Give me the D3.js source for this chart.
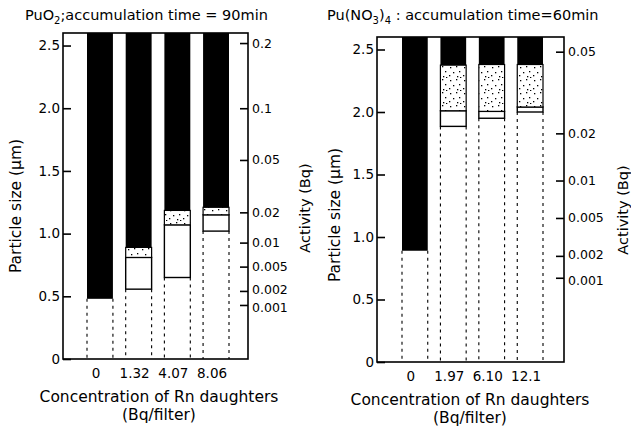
<!DOCTYPE html>
<html>
<head>
<meta charset="utf-8">
<script src="https://cdn.jsdelivr.net/npm/d3@7"></script>
<style>
  html, body { margin: 0; padding: 0; background: #fff; }
  svg text { font-family: "DejaVu Sans", sans-serif; fill: #000; }
</style>
</head>
<body>
<svg id="chart" width="631" height="426"></svg>
<script>
// ---------------- DATA ----------------
const sizeMax = 2.6;
const sizeTicks = [0, 0.5, 1.0, 1.5, 2.0, 2.5];

// Panel A: PuO2, accumulation time = 90 min
const puo2Conc = ["0", "1.32", "4.07", "8.06"];
const puo2BlackBottom = [0.48, 0.89, 1.185, 1.21];
const puo2StippleBottom = [null, 0.81, 1.07, 1.15];
const puo2BoxBottom = [null, 0.557, 0.65, 1.02];
const puo2ActivityTicks = [0.2, 0.1, 0.05, 0.02, 0.01, 0.005, 0.002, 0.001];
const puo2ActivityFactor = 80;   // size^3 / activity

// Panel B: Pu(NO3)4, accumulation time = 60 min
const punConc = ["0", "1.97", "6.10", "12.1"];
const punBlackBottom = [0.89, 2.375, 2.38, 2.38];
const punStippleBottom = [null, 2.01, 2.005, 2.04];
const punBoxBottom = [null, 1.885, 1.95, 2.0];
const punActivityTicks = [0.05, 0.02, 0.01, 0.005, 0.002, 0.001];
const punActivityFactor = 306;

// ---------------- DRAW ----------------
const svg = d3.select("#chart");

// stipple pattern
const defs = svg.append("defs");
const pat = defs.append("pattern").attr("id", "stip")
  .attr("patternUnits", "userSpaceOnUse").attr("width", 14).attr("height", 13);
pat.append("rect").attr("width", 14).attr("height", 13).attr("fill", "#fff");
[[2,2],[8,1],[11,6],[5,7],[1,10],[9,11],[12,12]].forEach(p =>
  pat.append("rect").attr("x", p[0]).attr("y", p[1]).attr("width", 1.3).attr("height", 1.3).attr("fill", "#000"));

function panel(cfg) {
  const g = svg.append("g");
  const y = d3.scaleLinear().domain([0, sizeMax]).range([cfg.bottom, cfg.top]);
  const yAct = d3.scalePow().exponent(1 / 3)
    .domain([0, Math.pow(sizeMax, 3) / cfg.factor]).range([cfg.bottom, cfg.top]);
  const x = d3.scaleBand().domain(cfg.conc).range(cfg.barRange)
    .paddingInner(0.33).paddingOuter(0);
  const bw = x.bandwidth();

  const rows = cfg.conc.map((c, i) => ({
    c, black: cfg.black[i], stip: cfg.stip[i], box: cfg.box[i]
  }));

  // dashed drop lines
  rows.forEach(d => {
    const low = d.box != null ? d.box : d.black;
    [x(d.c), x(d.c) + bw].forEach(xx => {
      g.append("line").attr("x1", xx).attr("x2", xx)
        .attr("y1", y(low)).attr("y2", y(0))
        .attr("stroke", "#000").attr("stroke-width", 1.1)
        .attr("stroke-dasharray", "3,4");
    });
  });

  // white boxes
  g.selectAll(".box").data(rows.filter(d => d.box != null)).join("rect")
    .attr("x", d => x(d.c)).attr("width", bw)
    .attr("y", d => y(d.stip)).attr("height", d => y(d.box) - y(d.stip))
    .attr("fill", "#fff").attr("stroke", "#000").attr("stroke-width", 1.4);
  // stippled segments
  g.selectAll(".stip").data(rows.filter(d => d.stip != null)).join("rect")
    .attr("x", d => x(d.c)).attr("width", bw)
    .attr("y", d => y(d.black)).attr("height", d => y(d.stip) - y(d.black))
    .attr("fill", "url(#stip)").attr("stroke", "#000").attr("stroke-width", 1.2);
  // black segments
  g.selectAll(".blk").data(rows).join("rect")
    .attr("x", d => x(d.c)).attr("width", bw)
    .attr("y", y(sizeMax)).attr("height", d => y(d.black) - y(sizeMax))
    .attr("fill", "#000");

  // frame
  g.append("rect").attr("x", cfg.left).attr("y", cfg.top)
    .attr("width", cfg.right - cfg.left).attr("height", cfg.bottom - cfg.top)
    .attr("fill", "none").attr("stroke", "#000").attr("stroke-width", 1.6);

  // left axis
  const la = g.append("g").attr("transform", `translate(${cfg.left},0)`)
    .call(d3.axisLeft(y).tickValues(sizeTicks)
      .tickFormat(v => v === 0 ? "0" : d3.format(".1f")(v))
      .tickSizeInner(-8).tickSizeOuter(0).tickPadding(3));
  la.select(".domain").remove();
  la.selectAll("line").attr("stroke", "#000").attr("stroke-width", 1.6);
  la.selectAll("text").attr("font-size", 13.5).attr("font-family", "DejaVu Sans");

  // right axis (activity)
  const ra = g.append("g").attr("transform", `translate(${cfg.right},0)`)
    .call(d3.axisRight(yAct).tickValues(cfg.actTicks)
      .tickFormat(v => String(v))
      .tickSizeInner(-8).tickSizeOuter(0).tickPadding(4));
  ra.select(".domain").remove();
  ra.selectAll("line").attr("stroke", "#000").attr("stroke-width", 1.6);
  ra.selectAll("text").attr("font-size", 12.5).attr("font-family", "DejaVu Sans")
    .attr("dy", v => v === 0.001 ? "0.5em" : v === 0.002 ? "0.22em" : "0.32em");

  // bottom labels
  g.selectAll(".xl").data(cfg.conc).join("text")
    .attr("x", d => x(d) + bw / 2 - 4).attr("y", cfg.bottom + 19)
    .attr("text-anchor", "middle").attr("font-size", 13.5).text(d => d);

  // titles and axis titles
  const t = g.append("text").attr("x", cfg.titleX).attr("y", 20).attr("font-size", 14.5);
  cfg.title(t);

  g.append("text").attr("transform", `translate(${cfg.ylabX},${cfg.ylabY}) rotate(-90)`)
    .attr("text-anchor", "middle").attr("dominant-baseline", "central")
    .attr("font-size", 15.5).text("Particle size (\u03bcm)");
  g.append("text").attr("transform", `translate(${cfg.alabX},${cfg.alabY}) rotate(-90)`)
    .attr("text-anchor", "middle").attr("dominant-baseline", "central")
    .attr("font-size", 14.5).text("Activity (Bq)");
  g.append("text").attr("x", cfg.xlabX).attr("y", cfg.bottom + 43)
    .attr("text-anchor", "middle").attr("font-size", 15.5).text("Concentration of Rn daughters");
  g.append("text").attr("x", cfg.xlabX).attr("y", cfg.bottom + 61)
    .attr("text-anchor", "middle").attr("font-size", 15.5).text("(Bq/filter)");
}

panel({
  left: 63, right: 248, top: 33, bottom: 359, barRange: [87, 229],
  conc: puo2Conc, black: puo2BlackBottom, stip: puo2StippleBottom, box: puo2BoxBottom,
  actTicks: puo2ActivityTicks, factor: puo2ActivityFactor,
  titleX: 25,
  title: t => {
    t.append("tspan").text("PuO");
    t.append("tspan").attr("font-size", 10).attr("dy", 4).text("2");
    t.append("tspan").attr("dy", -4).text(";accumulation time = 90min");
  },
  ylabX: 16, ylabY: 206, alabX: 305, alabY: 208, xlabX: 159
});

panel({
  left: 377, right: 564, top: 37, bottom: 362, barRange: [402, 543],
  conc: punConc, black: punBlackBottom, stip: punStippleBottom, box: punBoxBottom,
  actTicks: punActivityTicks, factor: punActivityFactor,
  titleX: 327,
  title: t => {
    t.append("tspan").text("Pu(NO");
    t.append("tspan").attr("font-size", 10).attr("dy", 4).text("3");
    t.append("tspan").attr("dy", -4).text(")");
    t.append("tspan").attr("font-size", 10).attr("dy", 4).text("4");
    t.append("tspan").attr("dy", -4).text(" : accumulation time=60min");
  },
  ylabX: 335, ylabY: 215, alabX: 623, alabY: 210, xlabX: 470
});
</script>
</body>
</html>
